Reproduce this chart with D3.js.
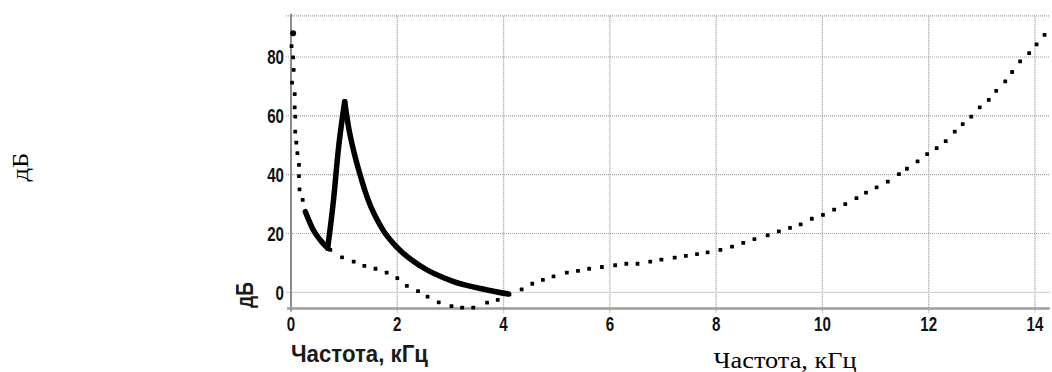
<!DOCTYPE html>
<html lang="ru">
<head>
<meta charset="UTF-8" />
<title>Частотная характеристика</title>
<script src="https://cdn.jsdelivr.net/npm/d3@7"></script>
<style>
  body { margin: 0; background: #fff; }
  .tick-label {
    font-family: "Liberation Sans", Arial, sans-serif;
    font-weight: bold;
    font-size: 20px;
    fill: #111;
  }
  .inner-title {
    font-family: "Liberation Sans", Arial, sans-serif;
    font-weight: bold;
    font-size: 23px;
    fill: #1a1a1a;
  }
  .outer-title {
    font-family: "Liberation Serif", "Times New Roman", serif;
    font-size: 24px;
    fill: #000;
  }
</style>
</head>
<body>
<svg id="chart" width="1052" height="372"></svg>
<script>
// dotted curve (frequency kHz / level dB)
var dotFreq = [0.04, 0.01, 0.04, 0.05, 0.02, 0.07, 0.07, 0.08, 0.08, 0.10, 0.12, 0.15, 0.15, 0.16, 0.22,
  0.74, 0.96, 1.18, 1.38, 1.59, 1.80, 2.00, 2.18, 2.39, 2.57, 2.78, 3.02, 3.22, 3.43, 3.69, 3.89, 4.11,
  4.34, 4.54, 4.74, 4.94, 5.19, 5.40, 5.61, 5.85, 6.10, 6.31, 6.52, 6.76, 6.97, 7.22, 7.43, 7.64, 7.84,
  8.08, 8.30, 8.51, 8.72, 8.97, 9.18, 9.39, 9.59, 9.80, 10.01, 10.22, 10.43, 10.64, 10.82, 11.02, 11.23,
  11.44, 11.59, 11.79, 11.97, 12.15, 12.32, 12.49, 12.64, 12.80, 12.96, 13.13, 13.27, 13.44, 13.57,
  13.72, 13.89, 14.03, 14.18];
var dotDb = [88.1, 83.7, 79.9, 75.6, 71.3, 67.4, 62.9, 59.7, 54.6, 50.9, 47.3, 43.3, 39.5, 35.0, 31.4,
  14.4, 11.9, 10.4, 9.0, 8.0, 6.7, 4.8, 2.2, 0.4, -1.5, -3.4, -4.7, -5.2, -5.2, -3.5, -2.6, -0.7,
  1.0, 2.9, 4.2, 5.4, 6.7, 7.3, 8.0, 8.6, 9.2, 9.7, 9.7, 10.4, 11.1, 11.8, 12.4, 13.0, 13.6,
  14.4, 15.5, 16.8, 18.1, 19.4, 20.7, 21.9, 23.1, 25.0, 26.3, 28.1, 30.0, 32.0, 33.9, 35.7, 37.6,
  40.2, 42.0, 44.5, 47.0, 49.0, 51.4, 54.6, 57.2, 59.7, 62.9, 65.4, 68.5, 71.7, 74.9, 78.5,
  81.3, 84.3, 87.5];

// solid curve with the resonance peak
var lineFreq = [0.27, 0.42, 0.55, 0.69, 0.80, 0.89, 1.01, 1.08, 1.18, 1.30, 1.45, 1.72, 2.01, 2.43, 3.06, 3.69, 4.09];
var lineDb = [27.4, 21.2, 17.8, 15.0, 31.4, 48.4, 64.8, 56.5, 48.0, 40.0, 31.5, 21.5, 15.0, 9.0, 3.6, 0.8, -0.6];

var xTicks = [0, 2, 4, 6, 8, 10, 12, 14];
var yTicks = [0, 20, 40, 60, 80];

(function () {
  var svg = d3.select("#chart");

  var x = d3.scaleLinear().domain([0, 14]).range([291, 1035]);
  var y = d3.scaleLinear().domain([0, 80]).range([292.3, 57]);
  var xMax = 14.28, yMin = -5.5, yMax = 94;

  // grid
  var grid = svg.append("g");
  grid.selectAll("line.v")
    .data(xTicks.slice(1))
    .enter()
    .append("line")
    .attr("x1", function (d) { return x(d); })
    .attr("x2", function (d) { return x(d); })
    .attr("y1", y(yMax))
    .attr("y2", y(yMin) + 4)
    .attr("stroke", "#9a9a9a")
    .attr("stroke-width", 1.3)
    .attr("stroke-dasharray", "1,1");

  grid.selectAll("line.h")
    .data(yTicks.slice(1).concat([yMax]))
    .enter()
    .append("line")
    .attr("x1", x(0) - 5)
    .attr("x2", x(xMax))
    .attr("y1", function (d) { return y(d); })
    .attr("y2", function (d) { return y(d); })
    .attr("stroke", "#a0a0a0")
    .attr("stroke-width", 1.2)
    .attr("stroke-dasharray", "1,1");

  // zero level, lighter solid line
  grid.append("line")
    .attr("x1", x(0) - 5)
    .attr("x2", x(xMax))
    .attr("y1", y(0))
    .attr("y2", y(0))
    .attr("stroke", "#d4d4d4")
    .attr("stroke-width", 1.2);

  // axes lines
  svg.append("line")
    .attr("x1", x(0)).attr("x2", x(0))
    .attr("y1", y(yMax) - 2).attr("y2", y(yMin) + 3)
    .attr("stroke", "#8c8c8c")
    .attr("stroke-width", 2);
  svg.append("line")
    .attr("x1", x(0) - 4).attr("x2", x(xMax))
    .attr("y1", y(yMin)).attr("y2", y(yMin))
    .attr("stroke", "#9c9c9c")
    .attr("stroke-width", 2.5);

  // tick labels, squeezed to look like a narrow face
  var digitW = 8.4;
  svg.selectAll("text.xt")
    .data(xTicks)
    .enter()
    .append("text")
    .attr("class", "tick-label")
    .attr("x", function (d) { return x(d); })
    .attr("y", y(yMin) + 23)
    .attr("text-anchor", "middle")
    .attr("textLength", function (d) { return String(d).length * digitW; })
    .attr("lengthAdjust", "spacingAndGlyphs")
    .text(function (d) { return d; });

  svg.selectAll("text.yt")
    .data(yTicks)
    .enter()
    .append("text")
    .attr("class", "tick-label")
    .attr("x", x(0) - 7)
    .attr("y", function (d) { return y(d); })
    .attr("dy", "0.36em")
    .attr("text-anchor", "end")
    .attr("textLength", function (d) { return String(d).length * digitW; })
    .attr("lengthAdjust", "spacingAndGlyphs")
    .text(function (d) { return d; });

  // titles inside the original figure
  svg.append("text")
    .attr("class", "inner-title")
    .attr("x", x(0))
    .attr("y", 362)
    .attr("textLength", 137)
    .attr("lengthAdjust", "spacingAndGlyphs")
    .text("Частота, кГц");
  svg.append("text")
    .attr("class", "inner-title")
    .attr("transform", "translate(253,295) rotate(-90)")
    .attr("text-anchor", "middle")
    .attr("textLength", 26)
    .attr("lengthAdjust", "spacingAndGlyphs")
    .text("дБ");

  // outer titles
  svg.append("text")
    .attr("class", "outer-title")
    .attr("x", 785)
    .attr("y", 368)
    .attr("text-anchor", "middle")
    .attr("textLength", 143)
    .attr("lengthAdjust", "spacingAndGlyphs")
    .text("Частота, кГц");
  svg.append("text")
    .attr("class", "outer-title")
    .attr("transform", "translate(28,167) rotate(-90)")
    .attr("text-anchor", "middle")
    .attr("textLength", 29)
    .attr("lengthAdjust", "spacingAndGlyphs")
    .text("дБ");

  // dotted series
  var dots = dotFreq.map(function (f, i) { return [f, dotDb[i]]; });
  svg.append("g")
    .selectAll("rect")
    .data(dots)
    .enter()
    .append("rect")
    .attr("x", function (d, i) { return x(d[0]) - (i === 0 ? 3 : 1.9); })
    .attr("y", function (d, i) { return y(d[1]) - (i === 0 ? 3 : 1.9); })
    .attr("width", function (d, i) { return i === 0 ? 6 : 3.8; })
    .attr("height", function (d, i) { return i === 0 ? 6 : 3.8; })
    .attr("rx", function (d, i) { return i === 0 ? 3 : 0.6; })
    .attr("fill", "#000");

  // solid series, split at the valley and the peak so the corners stay sharp
  var pts = lineFreq.map(function (f, i) { return [f, lineDb[i]]; });
  var line = d3.line()
    .x(function (d) { return x(d[0]); })
    .y(function (d) { return y(d[1]); })
    .curve(d3.curveMonotoneX);
  var parts = [pts.slice(0, 4), pts.slice(3, 7), pts.slice(6)];
  svg.append("g")
    .selectAll("path")
    .data(parts)
    .enter()
    .append("path")
    .attr("d", line)
    .attr("fill", "none")
    .attr("stroke", "#000")
    .attr("stroke-width", 5.5)
    .attr("stroke-linecap", "round")
    .attr("stroke-linejoin", "round");
})();
</script>
</body>
</html>
